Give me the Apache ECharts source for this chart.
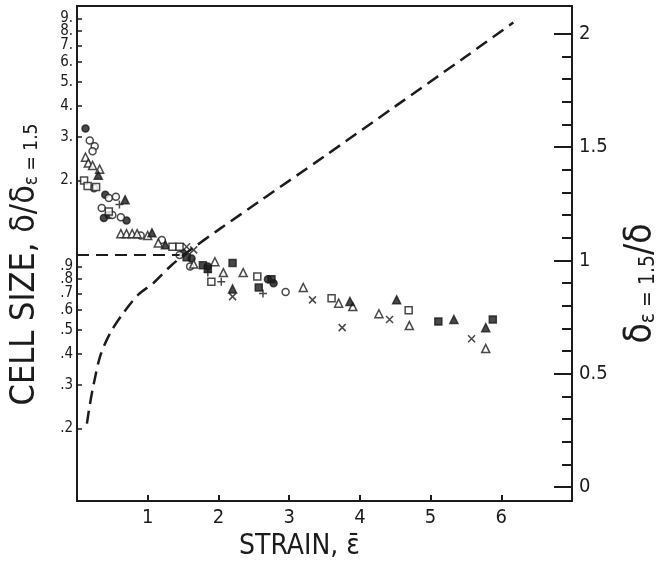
<!DOCTYPE html>
<html><head><meta charset="utf-8">
<script src="https://cdn.jsdelivr.net/npm/echarts@6/dist/echarts.min.js"></script>
<style>html,body{margin:0;padding:0;background:#fff}#c{width:661px;height:570px}</style>
</head><body><div id="c"></div>
<script>
// ---- data ----
const strainTicks = [1, 2, 3, 4, 5, 6];
const leftTicks = [0.2, 0.3, 0.4, 0.5, 0.6, 0.7, 0.8, 0.9, 2, 3, 4, 5, 6, 7, 8, 9];
// label slots (10 is an unlabelled end slot)
const leftLabelSlots = [0.2, 0.3, 0.4, 0.5, 0.6, 0.7, 0.8, 0.9, 2, 3, 4, 5, 6, 7, 8, 9, 10];
const rightMajor = [0, 0.5, 1, 1.5, 2];
const rightMinor = [0.1, 0.2, 0.3, 0.4, 0.6, 0.7, 0.8, 0.9, 1.1, 1.2, 1.3, 1.4, 1.6, 1.7, 1.8, 1.9];

// dashed curve: delta(1.5)/delta vs strain (right axis)
const curveStrain = [0.14, 0.18, 0.23, 0.33, 0.47, 0.66, 0.87, 1.08, 1.34, 1.62, 2.0, 2.6, 3.5, 4.5, 5.5, 6.17];
const curveRatio  = [0.28, 0.36, 0.445, 0.58, 0.68, 0.77, 0.85, 0.90, 0.98, 1.05, 1.135, 1.265, 1.46, 1.68, 1.90, 2.05];

// horizontal reference line at delta/delta(1.5) = 1
const refStrain = [0, 1.45];
const refSize = [1, 1];

// scatter groups: [strain, delta/delta1.5]
const filledCircle = [[0.12, 3.24], [0.40, 1.75], [0.45, 1.45], [0.38, 1.41], [0.70, 1.38], [1.50, 1.02], [1.62, 0.97], [2.70, 0.80], [2.78, 0.77], [1.85, 0.90]];
const openCircle = [[0.18, 2.90], [0.25, 2.75], [0.22, 2.62], [0.24, 1.86], [0.45, 1.70], [0.55, 1.72], [0.35, 1.55], [0.50, 1.45], [0.62, 1.42], [0.90, 1.20], [1.20, 1.15], [1.60, 0.90], [2.95, 0.71], [1.45, 1.00]];
const openTriangle = [[0.12, 2.48], [0.16, 2.35], [0.22, 2.30], [0.32, 2.22], [0.62, 1.22], [0.70, 1.22], [0.78, 1.22], [0.85, 1.22], [1.00, 1.20], [1.15, 1.12], [1.95, 0.94], [2.07, 0.85], [2.35, 0.85], [3.20, 0.74], [3.70, 0.64], [3.90, 0.62], [4.27, 0.58], [4.70, 0.52], [5.78, 0.42], [1.65, 0.92]];
const filledTriangle = [[0.68, 1.67], [1.06, 1.23], [2.20, 0.73], [3.86, 0.65], [4.52, 0.66], [5.33, 0.55], [5.78, 0.51], [0.30, 2.10], [1.25, 1.10]];
const openSquare = [[0.10, 2.00], [0.15, 1.90], [0.27, 1.88], [1.35, 1.08], [1.45, 1.08], [1.90, 0.78], [2.55, 0.82], [3.60, 0.67], [4.69, 0.60], [0.45, 1.50]];
const filledSquare = [[1.78, 0.91], [1.85, 0.88], [2.20, 0.93], [2.57, 0.74], [2.75, 0.80], [5.11, 0.54], [5.88, 0.55], [1.55, 0.98]];
const crossMark = [[1.55, 1.08], [2.20, 0.68], [3.33, 0.66], [3.75, 0.51], [4.42, 0.55], [5.58, 0.46], [1.65, 1.05]];
const plusMark = [[2.04, 0.78], [2.63, 0.70], [0.60, 1.60], [1.85, 0.85]];

// ---- chart ----
const INK = '#1c1c1c';
const FONT = '"Liberation Sans Narrow", "DejaVu Sans Condensed", "Liberation Sans", sans-serif';
const chart = echarts.init(document.getElementById('c'), null, {renderer: 'canvas'});

function scatter(name, data, symbol, size, filled) {
  return {
    name, type: 'scatter', xAxisIndex: 0, yAxisIndex: 0, data,
    symbol, symbolSize: size, silent: true,
    itemStyle: {
      color: filled ? INK : (symbol.indexOf('path://') === 0 ? 'none' : '#fff'),
      borderColor: INK, borderWidth: 1.5
    }
  };
}

const option = {
  backgroundColor: '#fff',
  animation: false,
  textStyle: {fontFamily: FONT, color: INK},
  grid: {left: 77, right: 89, top: 6, bottom: 69, show: true, borderColor: INK, borderWidth: 2, outerBoundsMode: 'none', containLabel: false},
  xAxis: [{
    type: 'value', min: 0, max: 7,
    axisLine: {show: true, onZero: false, lineStyle: {color: INK, width: 2}},
    axisTick: {show: true, inside: true, length: 6, lineStyle: {color: INK, width: 2}, customValues: strainTicks},
    axisLabel: {show: true, customValues: strainTicks, showMinLabel: true, showMaxLabel: true, color: INK, fontFamily: FONT, fontSize: 20, margin: 7},
    splitLine: {show: false},
    name: 'STRAIN, \u03B5\u0304', nameLocation: 'middle', nameGap: 30,
    nameTextStyle: {fontFamily: FONT, fontSize: 28, color: INK, padding: [0, 50, 0, 0]}
  }],
  yAxis: [{
    type: 'log', min: 0.102, max: 10.1, position: 'left',
    axisLine: {show: true, onZero: false, lineStyle: {color: INK, width: 2}},
    axisTick: {show: true, inside: true, length: 5, lineStyle: {color: INK, width: 1.5}, customValues: leftTicks},
    axisLabel: {show: true, customValues: leftLabelSlots, hideOverlap: false,
      color: INK, fontFamily: FONT, fontSize: 15, margin: 4,
      formatter: v => v >= 9.5 ? '' : (v < 1 ? '.' + Math.round(v * 10) : Math.round(v) + '.')},
    splitLine: {show: false}, minorTick: {show: false},
    name: 'CELL SIZE, \u03B4/\u03B4{s|\u03B5 = 1.5}', nameLocation: 'middle', nameRotate: 90, nameGap: 35,
    nameTextStyle: {fontFamily: FONT, fontSize: 34, color: INK, padding: [0, 22, 0, 0],
      rich: {s: {fontFamily: FONT, fontSize: 19, color: INK, verticalAlign: 'bottom', lineHeight: 34}}}
  }, {
    type: 'value', min: -0.0617, max: 2.123, position: 'right',
    axisLine: {show: true, onZero: false, lineStyle: {color: INK, width: 2}},
    axisTick: {show: true, inside: true, length: 18, lineStyle: {color: INK, width: 2}, customValues: rightMajor},
    axisLabel: {show: true, customValues: rightMajor, hideOverlap: false, showMinLabel: true, showMaxLabel: true,
      color: INK, fontFamily: FONT, fontSize: 20, margin: 7, formatter: v => String(v)},
    splitLine: {show: false},
    name: '\u03B4{s|\u03B5 = 1.5}/\u03B4', nameLocation: 'middle', nameRotate: 90, nameGap: 50,
    nameTextStyle: {fontFamily: FONT, fontSize: 37, color: INK, padding: [0, 60, 0, 0],
      rich: {s: {fontFamily: FONT, fontSize: 21, color: INK, verticalAlign: 'bottom', lineHeight: 37}}}
  }, {
    type: 'value', min: -0.0617, max: 2.123, position: 'right',
    axisLine: {show: false, onZero: false},
    axisTick: {show: true, inside: true, length: 10, lineStyle: {color: INK, width: 2}, customValues: rightMinor},
    axisLabel: {show: false}, splitLine: {show: false}
  }],
  series: [
    {
      name: 'ratio', type: 'line', xAxisIndex: 0, yAxisIndex: 1, smooth: 0.3, showSymbol: false, silent: true,
      data: curveStrain.map((s, i) => [s, curveRatio[i]]),
      lineStyle: {color: INK, width: 2.5, type: [13, 7]}
    },
    {
      name: 'ref', type: 'line', xAxisIndex: 0, yAxisIndex: 0, showSymbol: false, silent: true,
      data: refStrain.map((s, i) => [s, refSize[i]]),
      lineStyle: {color: INK, width: 2, type: [12, 7]}
    },
    scatter('filledCircle', filledCircle, 'circle', 7, true),
    scatter('openCircle', openCircle, 'circle', 7, false),
    scatter('openTriangle', openTriangle, 'triangle', 8, false),
    scatter('filledTriangle', filledTriangle, 'triangle', 8, true),
    scatter('openSquare', openSquare, 'rect', 7, false),
    scatter('filledSquare', filledSquare, 'rect', 7, true),
    scatter('cross', crossMark, 'path://M0,0L10,10M10,0L0,10', 7, false),
    scatter('plus', plusMark, 'path://M5,0L5,10M0,5L10,5', 8, false)
  ]
};
chart.setOption(option);
</script>
</body></html>
